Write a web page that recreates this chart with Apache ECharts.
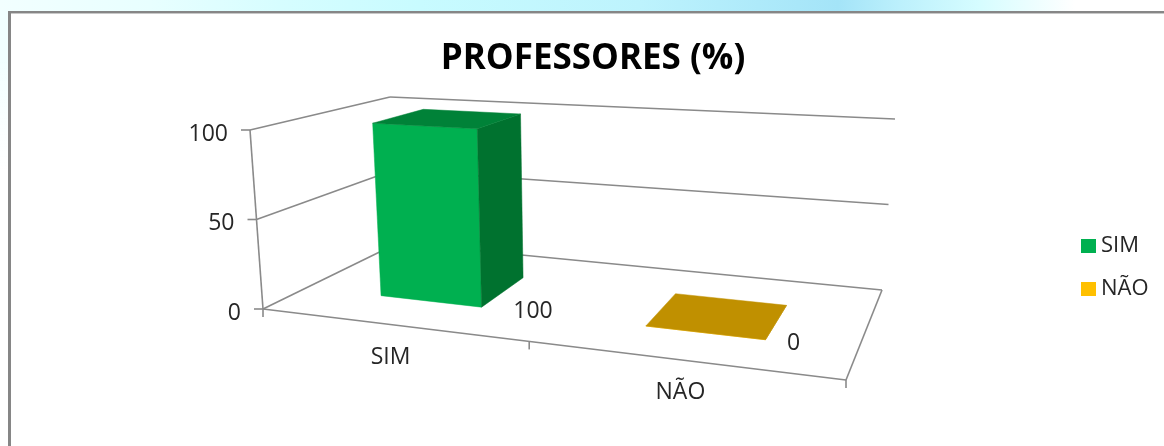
<!DOCTYPE html>
<html>
<head>
<meta charset="utf-8">
<title>PROFESSORES (%)</title>
<script src="https://cdn.jsdelivr.net/npm/echarts@6/dist/echarts.min.js"></script>
<style>
html, body { margin: 0; height: 100%; overflow: hidden; }
body {
  background:
    linear-gradient(180deg, rgba(255,255,255,0) 60px, #fff 170px),
    linear-gradient(90deg, #f2ffff 0, #e8ffff 150px, #d6fdff 280px, #c8fbff 420px, #bdf3fd 640px, #a4e4f8 838px, #bcf0fc 900px, #d6fdff 980px, #ffffff 1075px);
}
#panel {
  position: absolute; left: 8px; top: 11px; width: 1170px; height: 450px;
  background: #fff; border: solid #868686; border-width: 2px 0 0 3px; box-sizing: border-box;
  box-shadow: inset 0 1px 0 #c8c8c8;
}
#chartBox { position: absolute; left: 0; top: 0; width: 1164px; height: 446px; }
</style>
</head>
<body>
<div id="panel"></div>
<div id="chartBox"></div>
<script>
var categories = ['SIM', 'NÃO'];
var values = [100, 0];
var yTicks = [0, 50, 100];
var xTicks = [0, 1, 2];
var frontColors = ['#00B050', '#FFC000'];
var sideColors = ['#00722F', '#BF9000'];
var topColors = ['#008238', '#C09000'];

// corners of the 3d box on screen: [left/right][front/back][floor/top]
var box = {
  fl0: [263, 309], fr0: [846, 380], bl0: [398, 243], br0: [882, 290],
  fl1: [250, 130], fr1: [856, 165], bl1: [390, 97], br1: [895, 119]
};
var perspective = 1.19;
var barWidth = 0.4;
var barShift = 0.005;
var barFront = 0.33;
var barBack = 0.73;

var plot = { left: 100, top: 100, width: 600, height: 200 };

function warp (u) {
  return u / (u + perspective * (1 - u));
}
function mix (a, b, k) {
  return [a[0] + (b[0] - a[0]) * k, a[1] + (b[1] - a[1]) * k];
}
// u: across the categories, s: depth, w: height, all 0..1
function project3d (u, s, w) {
  var t = warp(u);
  var floor = mix(mix(box.fl0, box.fr0, t), mix(box.bl0, box.br0, t), s);
  var top = mix(mix(box.fl1, box.fr1, t), mix(box.bl1, box.br1, t), s);
  return mix(floor, top, w);
}
function toU (px) {
  return (px - plot.left) / plot.width;
}
function toW (py) {
  return (plot.top + plot.height - py) / plot.height;
}
function line (a, b) {
  return {
    type: 'line',
    shape: { x1: a[0], y1: a[1], x2: b[0], y2: b[1] },
    style: { stroke: '#8a8a8a', lineWidth: 1.6 }
  };
}
function label (text, x, y, align) {
  return {
    type: 'text',
    style: {
      text: text, x: x, y: y, align: align, verticalAlign: 'middle',
      fill: '#262626', font: '23px "Open Sans"'
    }
  };
}
function face (points, color) {
  return { type: 'polygon', shape: { points: points }, style: { fill: color, stroke: color, lineWidth: 0.5 } };
}

function renderWalls (params, api) {
  var w = toW(api.coord([0, api.value(0)])[1]);
  var front = project3d(0, 0, w);
  var back = project3d(0, 1, w);
  var right = project3d(1, 1, w);
  return {
    type: 'group',
    children: [
      line(front, back),
      line(back, right),
      line([front[0] - 9, front[1]], front),
      label(String(api.value(0)), front[0] - 22, front[1] + 4, 'right')
    ]
  };
}

function renderFloor (params, api) {
  var left = project3d(0, 0, 0);
  var right = project3d(1, 0, 0);
  return {
    type: 'group',
    children: [
      line(left, right),
      line(right, project3d(1, 1, 0)),
      line(left, project3d(0, 0, 1))
    ].concat(xTicks.map(function (tick) {
      var p = project3d(tick / categories.length, 0, 0);
      return line(p, [p[0], p[1] + 8]);
    }))
  };
}

function renderBar (params, api) {
  var index = api.value(0);
  var c = api.coord([index, api.value(1)]);
  var half = api.size([1, 0])[0] / plot.width * barWidth / 2;
  var u = toU(c[0]);
  var w = toW(c[1]);
  var u1 = u - half + barShift;
  var u2 = u + half + barShift;
  var a = project3d(u1, barFront, 0);
  var b = project3d(u2, barFront, 0);
  var d = project3d(u2, barBack, 0);
  var a1 = project3d(u1, barFront, w);
  var b1 = project3d(u2, barFront, w);
  var c1 = project3d(u2, barBack, w);
  var d1 = project3d(u1, barBack, w);
  var tick = project3d(u, 0, 0);
  var pos = mix(mix(box.fl0, box.fr0, warp(u) + 0.155), mix(box.bl0, box.br0, warp(u) + 0.155), barFront);
  return {
    type: 'group',
    children: [
      face([a, b, b1, a1], frontColors[index]),
      face([b, d, c1, b1], sideColors[index]),
      face([a1, b1, c1, d1], topColors[index]),
      label(String(api.value(1)), pos[0], pos[1] + 1, 'left'),
      label(categories[index], tick[0], tick[1] + 33, 'center')
    ]
  };
}

var myChart = echarts.init(document.getElementById('chartBox'));

var series = [
  {
    name: 'walls',
    type: 'custom',
    silent: true,
    renderItem: renderWalls,
    encode: { y: 0 },
    data: yTicks.map(function (v) { return [v]; })
  },
  {
    name: 'floor',
    type: 'custom',
    silent: true,
    renderItem: renderFloor,
    data: [[0]]
  }
];
categories.forEach(function (name, i) {
  series.push({
    name: name,
    type: 'custom',
    silent: true,
    itemStyle: { color: frontColors[i] },
    renderItem: renderBar,
    encode: { x: 0, y: 1 },
    data: [[i, values[i]]]
  });
});

myChart.setOption({
  animation: false,
  backgroundColor: 'transparent',
  title: {
    text: 'PROFESSORES (%)',
    left: 588,
    top: 37,
    textAlign: 'center',
    textStyle: { fontFamily: 'Open Sans', fontWeight: 'bold', fontSize: 35, color: '#000' }
  },
  legend: {
    data: categories,
    orient: 'vertical',
    left: 1076,
    top: 230,
    icon: 'rect',
    itemWidth: 15,
    itemHeight: 14,
    itemGap: 21,
    selectedMode: false,
    textStyle: { fontFamily: 'Open Sans', fontSize: 22, color: '#262626' }
  },
  grid: plot,
  xAxis: { type: 'category', data: categories, show: false },
  yAxis: { type: 'value', min: 0, max: 100, interval: 50, show: false },
  series: series
});
</script>
</body>
</html>
